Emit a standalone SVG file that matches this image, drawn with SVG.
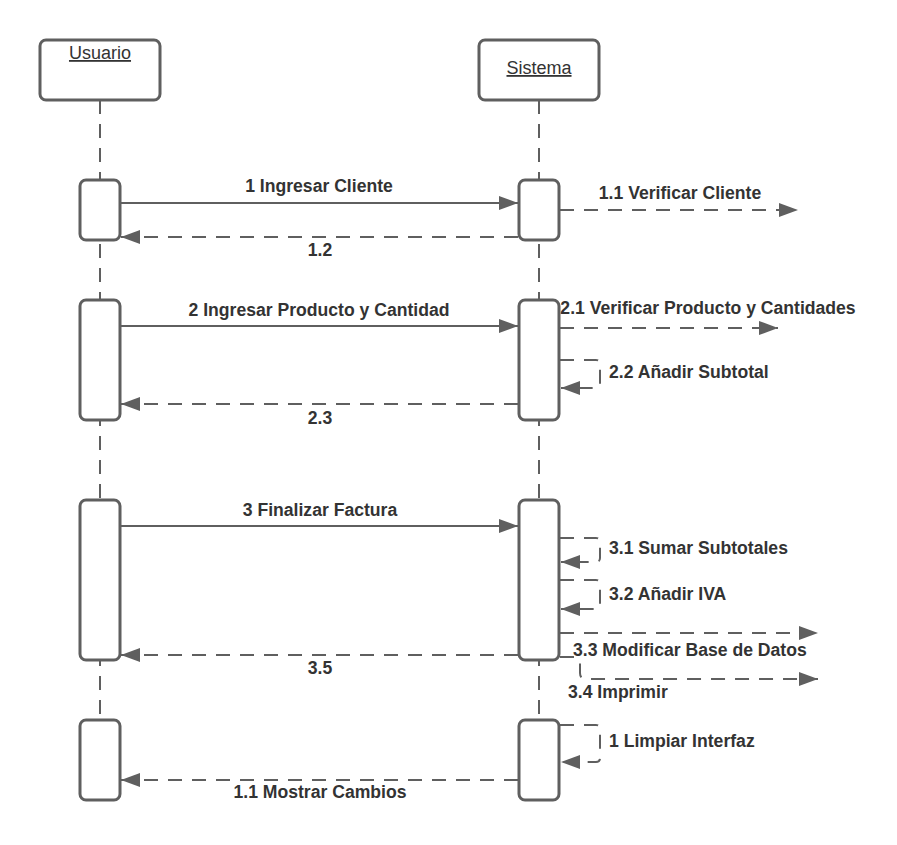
<svg xmlns="http://www.w3.org/2000/svg" width="897" height="845" viewBox="0 0 897 845">
<style>
.box{fill:#fff;stroke:#5f5f5f;stroke-width:3}
.life{stroke:#5f5f5f;stroke-width:2;stroke-dasharray:14 10;fill:none}
.msg{stroke:#5f5f5f;stroke-width:2;fill:none}
.dash{stroke-dasharray:14 10}
.t{font-family:"Liberation Sans",Arial,sans-serif;font-weight:bold;font-size:17.6px;fill:#333}
.h{font-family:"Liberation Sans",Arial,sans-serif;font-size:18px;fill:#333;text-decoration:underline}
</style>
<defs>
<marker id="ah" markerUnits="userSpaceOnUse" markerWidth="20" markerHeight="14" refX="19" refY="7" orient="auto">
<path d="M0,0 L19,7 L0,14 z" fill="#5f5f5f"/>
</marker>
</defs>
<rect width="897" height="845" fill="#fff"/>
<g id="lifelines">
<line class="life" x1="100" y1="100" x2="100" y2="800"/>
<line class="life" x1="539" y1="100" x2="539" y2="800"/>
</g>
<g id="usuario">
<rect class="box" x="40" y="40" width="120" height="60" rx="6"/>
<text class="h" x="100" y="59" text-anchor="middle">Usuario</text>
</g>
<g id="sistema">
<rect class="box" x="479" y="40" width="120" height="60" rx="6"/>
<text class="h" x="539" y="74" text-anchor="middle">Sistema</text>
</g>
<g id="activations">
<rect class="box" x="80" y="180" width="40" height="60" rx="6"/>
<rect class="box" x="519" y="180" width="40" height="60" rx="6"/>
<rect class="box" x="80" y="300" width="40" height="120" rx="6"/>
<rect class="box" x="519" y="300" width="40" height="120" rx="6"/>
<rect class="box" x="80" y="500" width="40" height="160" rx="6"/>
<rect class="box" x="519" y="500" width="40" height="160" rx="6"/>
<rect class="box" x="80" y="720" width="40" height="80" rx="6"/>
<rect class="box" x="519" y="720" width="40" height="80" rx="6"/>
</g>
<g id="connectors">
<line class="msg" x1="121" y1="203" x2="518" y2="203" marker-end="url(#ah)"/>
<line class="msg dash" x1="518" y1="237" x2="121" y2="237" marker-end="url(#ah)"/>
<line class="msg dash" x1="560" y1="210" x2="798" y2="210" marker-end="url(#ah)"/>
<line class="msg" x1="121" y1="326" x2="518" y2="326" marker-end="url(#ah)"/>
<line class="msg dash" x1="560" y1="328" x2="778" y2="328" marker-end="url(#ah)"/>
<path class="msg dash" d="M560,360 H596 Q600,360 600,364 V384 Q600,388 596,388 H561" marker-end="url(#ah)"/>
<line class="msg dash" x1="518" y1="404" x2="121" y2="404" marker-end="url(#ah)"/>
<line class="msg" x1="121" y1="526" x2="518" y2="526" marker-end="url(#ah)"/>
<path class="msg dash" d="M560,538 H596 Q600,538 600,542 V558 Q600,562 596,562 H561" marker-end="url(#ah)"/>
<path class="msg dash" d="M560,580 H596 Q600,580 600,584 V605 Q600,609 596,609 H561" marker-end="url(#ah)"/>
<line class="msg dash" x1="560" y1="633" x2="818" y2="633" marker-end="url(#ah)"/>
<line class="msg dash" x1="518" y1="655" x2="121" y2="655" marker-end="url(#ah)"/>
<path class="msg dash" d="M560,657 H574 Q580,657 580,663 V673 Q580,679 586,679 H818" marker-end="url(#ah)"/>
<path class="msg dash" d="M560,725 H596 Q600,725 600,729 V758 Q600,762 596,762 H561" marker-end="url(#ah)"/>
<line class="msg dash" x1="518" y1="780" x2="121" y2="780" marker-end="url(#ah)"/>
</g>
<g id="labels">
<text class="t" x="319" y="192" text-anchor="middle">1 Ingresar Cliente</text>
<text class="t" x="320" y="256" text-anchor="middle">1.2</text>
<text class="t" x="680" y="199" text-anchor="middle">1.1 Verificar Cliente</text>
<text class="t" x="319" y="316" text-anchor="middle">2 Ingresar Producto y Cantidad</text>
<text class="t" x="708" y="314" text-anchor="middle">2.1 Verificar Producto y Cantidades</text>
<text class="t" x="609" y="378">2.2 Añadir Subtotal</text>
<text class="t" x="320" y="424" text-anchor="middle">2.3</text>
<text class="t" x="320" y="516" text-anchor="middle">3 Finalizar Factura</text>
<text class="t" x="609" y="554">3.1 Sumar Subtotales</text>
<text class="t" x="609" y="600">3.2 Añadir IVA</text>
<text class="t" x="573" y="656">3.3 Modificar Base de Datos</text>
<text class="t" x="320" y="674" text-anchor="middle">3.5</text>
<text class="t" x="568" y="698">3.4 Imprimir</text>
<text class="t" x="609" y="747">1 Limpiar Interfaz</text>
<text class="t" x="320" y="798" text-anchor="middle">1.1 Mostrar Cambios</text>
</g>
</svg>
